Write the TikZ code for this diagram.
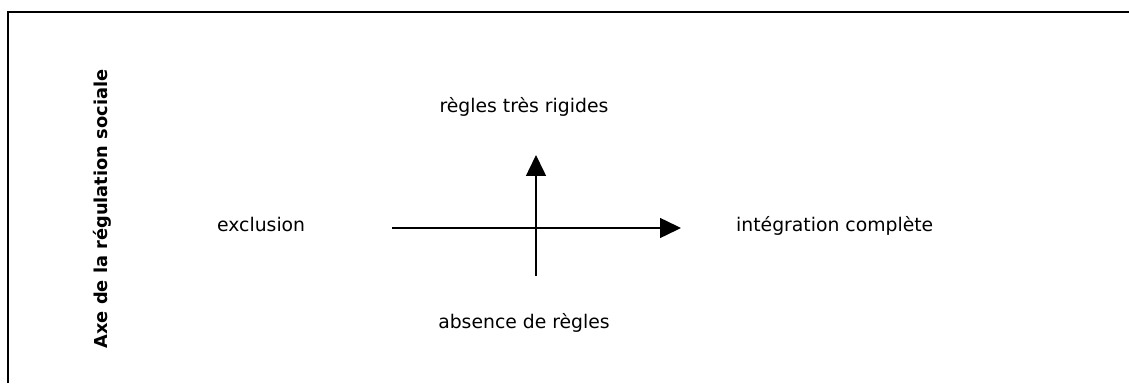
\documentclass[tikz,border=0pt]{standalone}
\usepackage{fontspec}
\setmainfont{DejaVu Sans}
\usetikzlibrary{arrows.meta}

\tikzset{
    axe/.style={line width=1.5pt, -{Triangle[length=21pt,width=20pt]}},
    lbl/.style={anchor=base, inner sep=0pt, font=\fontsize{18.8}{22}\selectfont}
}

\begin{document}
\begin{tikzpicture}[x=1pt,y=1pt]
        \useasboundingbox (0,0) rectangle (1129,383);
        \draw[line width=1.5pt] (8,0) -- (8,371) -- (1129,371);

        \node[lbl, rotate=90, font=\fontsize{17.8}{20}\selectfont\bfseries] (titre) at (107, 174) {Axe de la régulation sociale};

        \node[lbl] (haut) at (524, 270) {règles très rigides};
        \node[lbl] (bas) at (524, 55) {absence de règles};
        \node[lbl, anchor=base west] (gauche) at (217, 151) {exclusion};
        \node[lbl, anchor=base west] (droite) at (736, 151) {intégration complète};

        \coordinate (hdeb) at (392, 155);
        \coordinate (hfin) at (681, 155);
        \coordinate (vdeb) at (536, 107);
        \coordinate (vfin) at (536, 228);

        \draw[axe] (hdeb) -- (hfin);
        \draw[axe] (vdeb) -- (vfin);
    \end{tikzpicture}
\end{document}
